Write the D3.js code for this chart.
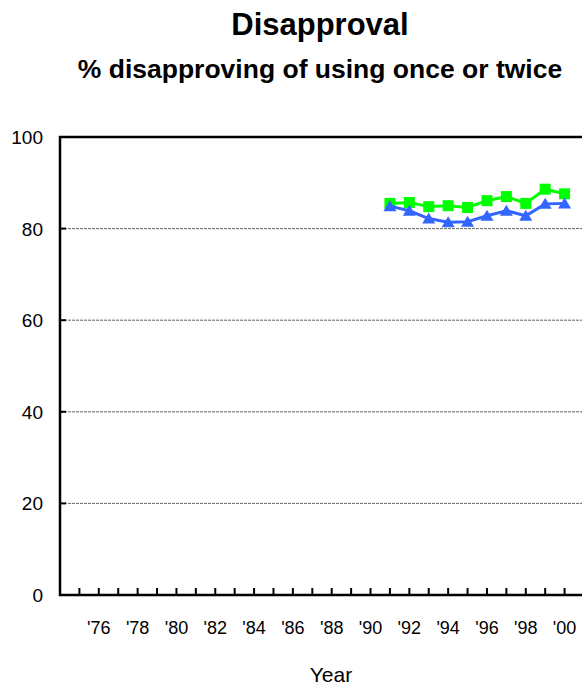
<!DOCTYPE html>
<html>
<head>
<meta charset="UTF-8">
<style>
  body { margin: 0; background: #fff; }
  text { font-family: "Liberation Sans", Arial, sans-serif; }
</style>
<script src="https://d3js.org/d3.v7.min.js"></script>
</head>
<body>
<div id="viz"></div>
<script>
// data
const years = [1991, 1992, 1993, 1994, 1995, 1996, 1997, 1998, 1999, 2000];
const greenVals = [85.5, 85.7, 84.8, 85.0, 84.6, 86.1, 87.0, 85.5, 88.6, 87.6];
const blueVals = [84.9, 83.9, 82.2, 81.4, 81.5, 82.8, 83.9, 82.8, 85.4, 85.5];
const tickYears = d3.range(1975, 2001);
const labelYears = d3.range(1976, 2001, 2);
const yTicks = [0, 20, 40, 60, 80, 100];

const width = 582, height = 690;

const x = d3.scaleLinear().domain([1974, 2001]).range([60, 584]);
const y = d3.scaleLinear().domain([0, 100]).range([595, 137]);

const svg = d3.select("#viz").append("svg")
    .attr("width", width)
    .attr("height", height);

// titles
svg.append("text")
    .attr("x", 320).attr("y", 35)
    .attr("text-anchor", "middle")
    .attr("font-size", 31).attr("font-weight", "bold")
    .text("Disapproval");
svg.append("text")
    .attr("x", 320).attr("y", 78)
    .attr("text-anchor", "middle")
    .attr("font-size", 26.5).attr("font-weight", "bold")
    .text("% disapproving of using once or twice");

// gridlines
svg.selectAll("line.grid")
  .data(yTicks.filter(d => d > 0 && d < 100))
  .join("line")
    .attr("class", "grid")
    .attr("x1", x(1974)).attr("x2", width)
    .attr("y1", d => y(d)).attr("y2", d => y(d))
    .attr("stroke", "#666")
    .attr("stroke-width", 1)
    .attr("stroke-dasharray", "3,1");

// y ticks (inside) + labels
svg.selectAll("line.ytick")
  .data(yTicks)
  .join("line")
    .attr("class", "ytick")
    .attr("x1", x(1974)).attr("x2", x(1974) + 6)
    .attr("y1", d => y(d)).attr("y2", d => y(d))
    .attr("stroke", "#000").attr("stroke-width", 2);
svg.selectAll("text.ylab")
  .data(yTicks)
  .join("text")
    .attr("class", "ylab")
    .attr("x", 43).attr("y", d => y(d) + 7)
    .attr("text-anchor", "end")
    .attr("font-size", 19)
    .text(d => d);

// x ticks + labels
svg.selectAll("line.xtick")
  .data(tickYears)
  .join("line")
    .attr("class", "xtick")
    .attr("x1", d => x(d)).attr("x2", d => x(d))
    .attr("y1", y(0)).attr("y2", y(0) - 7)
    .attr("stroke", "#000").attr("stroke-width", 2);
svg.selectAll("text.xlab")
  .data(labelYears)
  .join("text")
    .attr("class", "xlab")
    .attr("x", d => x(d)).attr("y", 634)
    .attr("text-anchor", "middle")
    .attr("font-size", 18)
    .text(d => "'" + String(d).slice(2));

svg.append("text")
    .attr("x", 331).attr("y", 682)
    .attr("text-anchor", "middle")
    .attr("font-size", 21)
    .text("Year");

// frame: left, top and bottom
svg.append("path")
    .attr("d", `M${width},${y(100)}H${x(1974)}V${y(0)}H${width}`)
    .attr("fill", "none")
    .attr("stroke", "#000")
    .attr("stroke-width", 2.5);

const line = d3.line().x(d => x(d[0])).y(d => y(d[1]));

// green series (squares)
const gData = years.map((yr, i) => [yr, greenVals[i]]);
svg.append("path")
    .attr("d", line(gData))
    .attr("fill", "none").attr("stroke", "#00FF00").attr("stroke-width", 3);
svg.selectAll("rect.g")
  .data(gData)
  .join("rect")
    .attr("class", "g")
    .attr("x", d => x(d[0]) - 5.5).attr("y", d => y(d[1]) - 5.5)
    .attr("width", 11).attr("height", 11)
    .attr("fill", "#00FF00");

// blue series (triangles)
const bData = years.map((yr, i) => [yr, blueVals[i]]);
svg.append("path")
    .attr("d", line(bData))
    .attr("fill", "none").attr("stroke", "#3366FF").attr("stroke-width", 3);
svg.selectAll("path.b")
  .data(bData)
  .join("path")
    .attr("class", "b")
    .attr("transform", d => `translate(${x(d[0])},${y(d[1])})`)
    .attr("d", "M0,-6L6.5,5L-6.5,5Z")
    .attr("fill", "#3366FF");
</script>
</body>
</html>
